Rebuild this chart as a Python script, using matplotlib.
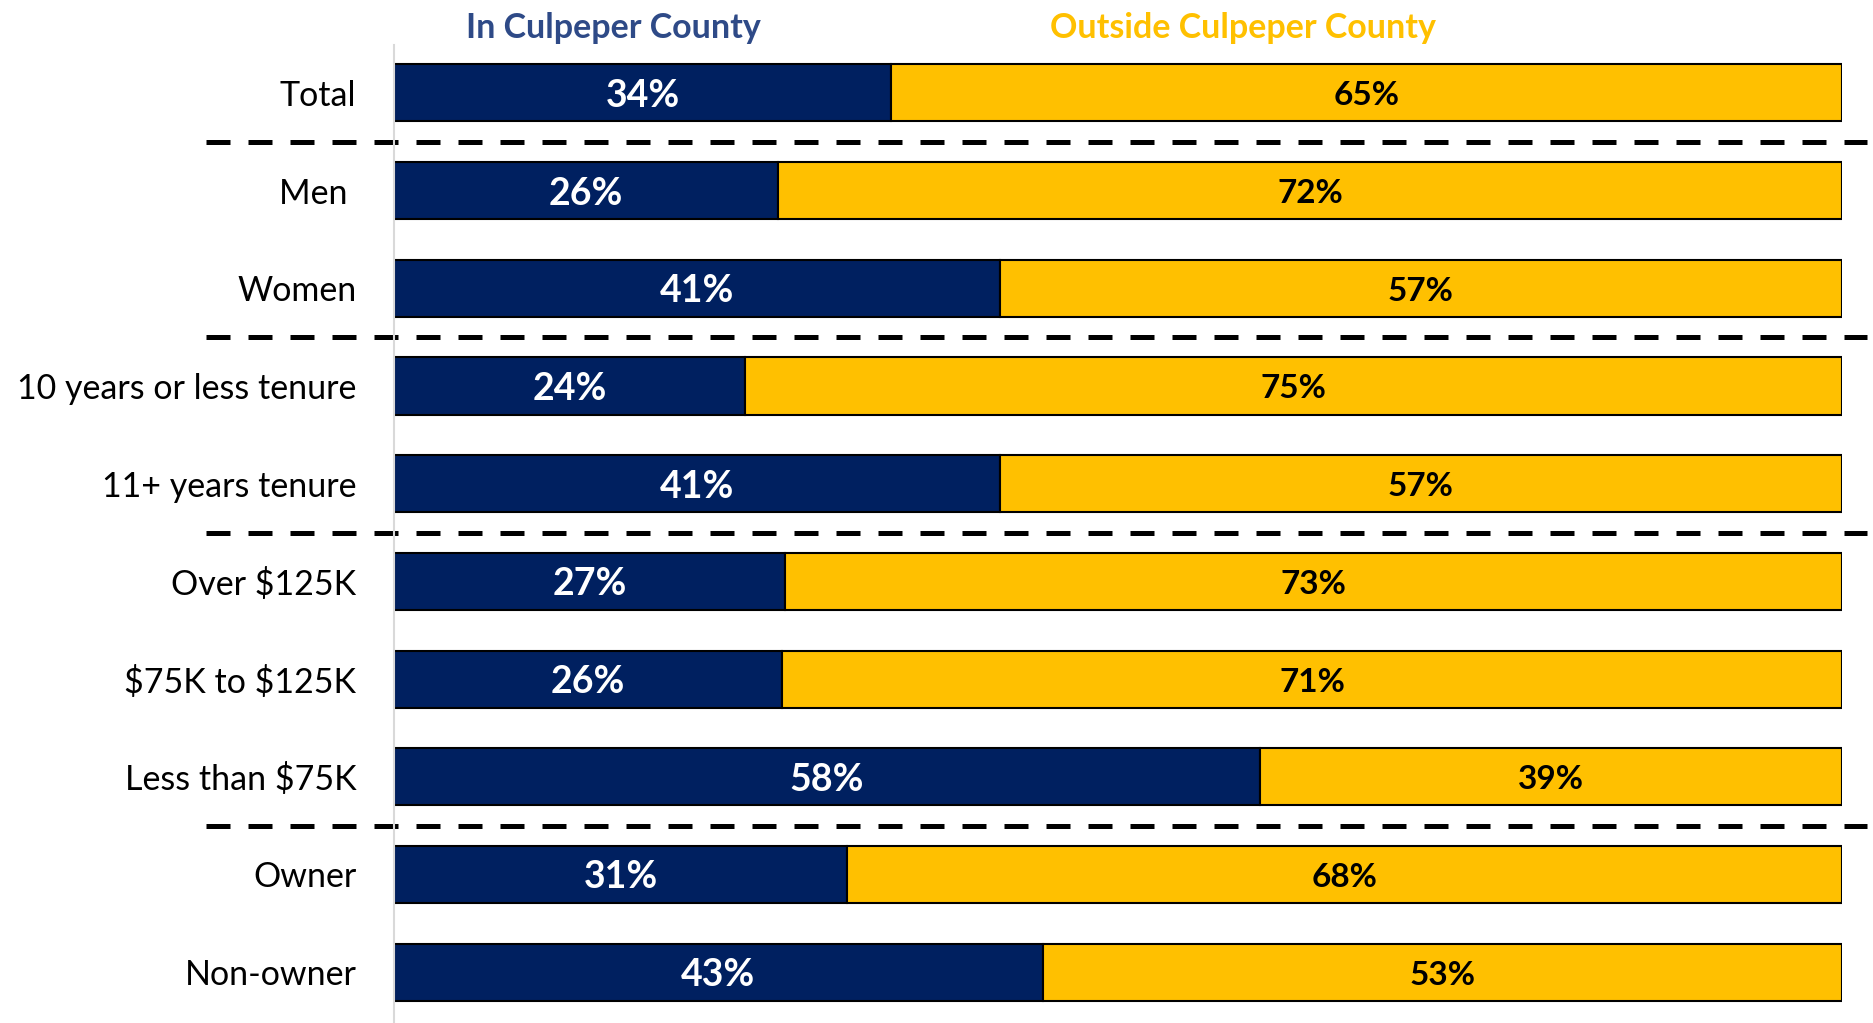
import numpy as np
import matplotlib.pyplot as plt

# ============================
# data
# ============================
categories = ["Total", "Men ", "Women", "10 years or less tenure", "11+ years tenure",
              "Over \\$125K", "\\$75K to \\$125K", "Less than \\$75K", "Owner", "Non-owner"]
in_county = np.array([34, 26, 41, 24, 41, 27, 26, 58, 31, 43])
outside_county = np.array([65, 72, 57, 75, 57, 73, 71, 39, 68, 53])
group_breaks = [0.5, 2.5, 4.5, 7.5]

NAVY = "#002060"
GOLD = "#FFC000"
FONT = "Lato"

# stacked to 100% of each row's total
total = in_county + outside_county
in_share = in_county / total * 100
out_share = outside_county / total * 100

fig = plt.figure(figsize=(18.74, 10.23), dpi=100)
ax = fig.add_axes([0.2102, 0.0, 0.7727, 0.956])

y = np.arange(len(categories))
bar_h = 0.585
ax.barh(y, in_share, height=bar_h, color=NAVY, edgecolor="black", linewidth=1.5)
ax.barh(y, out_share, left=in_share, height=bar_h, color=GOLD, edgecolor="black", linewidth=1.5)

for i in range(len(categories)):
    ax.text(in_share[i] / 2, y[i] + 0.03, f"{in_county[i]}%", ha="center", va="center",
            color="white", fontsize=27, fontweight="bold", family=FONT)
    ax.text(in_share[i] + out_share[i] / 2, y[i] + 0.03, f"{outside_county[i]}%", ha="center",
            va="center", color="black", fontsize=24, fontweight="bold", family=FONT)

# dashed separators between groups, running past the axes on both sides
for b in group_breaks:
    ax.plot([-0.13, 1.017], [b, b], transform=ax.get_yaxis_transform(), color="black",
            linewidth=3.6, dashes=(4.8, 3.6), clip_on=False)

ax.set_xlim(0, 100)
ax.set_ylim(9.52, -0.49)
ax.set_yticks(y)
ax.set_yticklabels(categories, fontsize=24.5, family=FONT)
ax.tick_params(axis="y", length=0, pad=27)
ax.set_xticks([])
for side in ["top", "right", "bottom"]:
    ax.spines[side].set_visible(False)
ax.spines["left"].set_color("#D9D9D9")
ax.spines["left"].set_linewidth(1.5)

# series headers
fig.text(613 / 1874, 1 - 28 / 1023, "In Culpeper County", ha="center", va="center",
         color="#2E4A87", fontsize=24.5, fontweight="bold", family=FONT)
fig.text(1243 / 1874, 1 - 28 / 1023, "Outside Culpeper County", ha="center", va="center",
         color=GOLD, fontsize=24.5, fontweight="bold", family=FONT)

fig.savefig("out.png", dpi=100)
